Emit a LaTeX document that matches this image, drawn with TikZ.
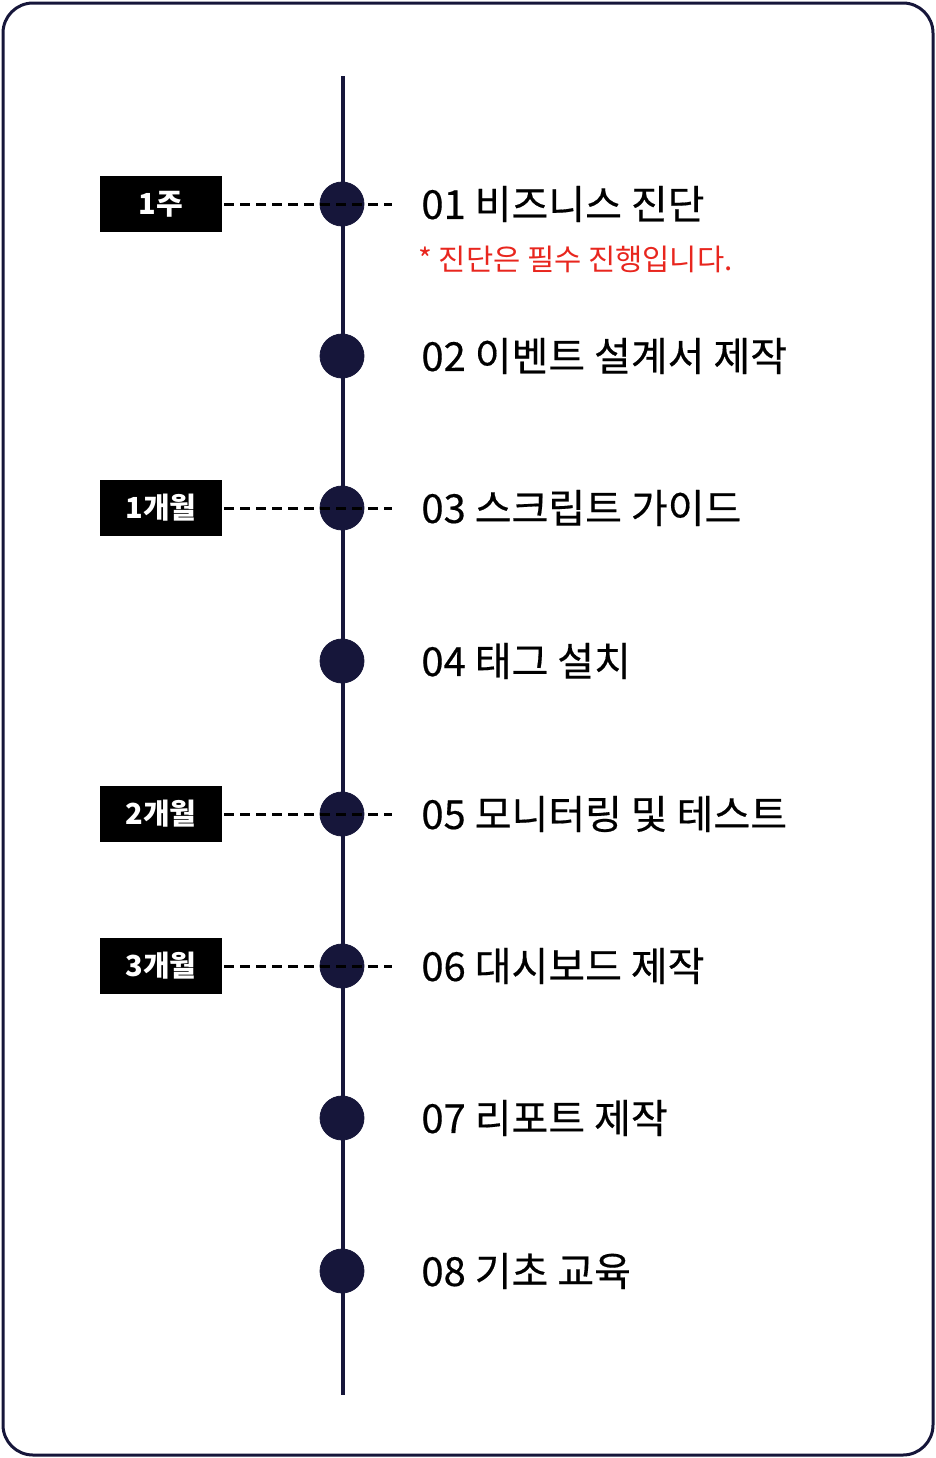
\documentclass[tikz,border=0pt]{standalone}
\usepackage{fontspec}
\setmainfont{Noto Sans CJK KR}
\newfontfamily\itemfont[FakeBold=0.4]{Noto Sans CJK KR}
\definecolor{navy}{HTML}{16163A}
\definecolor{notered}{HTML}{E8261E}
\tikzset{
	dot/.style={circle, fill=navy, draw=navy, minimum size=22pt, inner sep=0pt},
	tag/.style={fill=black, text=white, font=\bfseries\fontsize{14.5}{14.5}\selectfont, minimum width=61pt, minimum height=28pt, inner sep=0pt},
	item/.style={anchor=west, font=\itemfont\fontsize{20}{20}\selectfont, inner sep=0pt},
	tick/.style={line width=1.5pt, dash pattern=on 5pt off 3pt}
}
\begin{document}
\begin{tikzpicture}[x=0.5pt, y=-0.5pt]
	\useasboundingbox (0,0) rectangle (936,1458);
	% frame
	\draw[navy, line width=1.5pt, rounded corners=15pt] (3,3) rectangle (933,1455);
	
	% timeline
	\coordinate (top) at (343,76);
	\coordinate (bottom) at (343,1395);
	\draw[navy, line width=2pt] (top) -- (bottom);
	
	% steps
	\foreach \n/\y/\txt in {1/204/01 비즈니스 진단, 2/356/02 이벤트 설계서 제작, 3/508/03 스크립트 가이드, 4/661/04 태그 설치, 5/814/05 모니터링 및 테스트, 6/966/06 대시보드 제작, 7/1118/07 리포트 제작, 8/1271/08 기초 교육}
	{
		\node[dot] (s\n) at (342,\y) {};
		\node[item] (l\n) at (421,\y) {\txt};
	}
	\node[anchor=west, inner sep=0pt, text=notered, font=\fontsize{14.8}{14.8}\selectfont] (note) at (418,259) {* 진단은 필수 진행입니다.};
	
	% periods
	\foreach \n/\txt in {1/1주, 3/1개월, 5/2개월, 6/3개월}
	{
		\node[tag] (t\n) at (161,0 |- s\n) {\txt};
		\coordinate (e\n) at (392,0 |- s\n);
		\draw[tick] ([xshift=1pt]t\n.east) -- (e\n);
	}
\end{tikzpicture}
\end{document}
